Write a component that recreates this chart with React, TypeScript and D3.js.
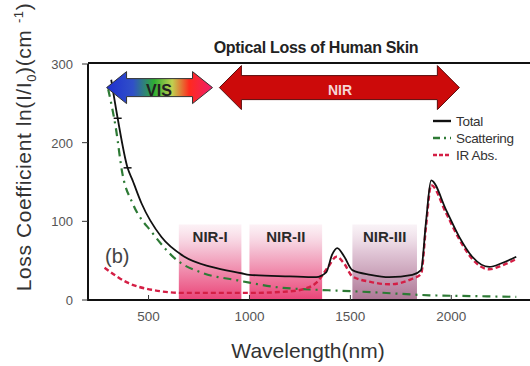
import React from "react";
import { scaleLinear, line, curveMonotoneX } from "d3";

// data (wavelength nm / loss coefficient cm^-1)
const totalWl = [315, 347, 396, 421, 465, 564, 678, 812, 960, 1000, 1200, 1330, 1380, 1410, 1435, 1470, 1510, 1600, 1693, 1807, 1850, 1875, 1900, 1975, 2040, 2104, 2188, 2252, 2322];
const totalVal = [280, 231, 168, 152, 123, 80, 55, 42, 34, 32, 30, 29, 35, 58, 66, 55, 38, 32, 29, 32, 38, 100, 152, 114, 80, 55, 42, 47, 55];

const scatWl = [300, 337, 371, 421, 520, 639, 772, 941, 1000, 1114, 1332, 1431, 1600, 1891, 2100, 2322];
const scatVal = [268, 220, 160, 123, 85, 51, 34, 25, 22, 17, 13, 12, 10, 6, 5, 4];

const absWl = [282, 396, 515, 678, 1000, 1200, 1282, 1332, 1390, 1431, 1470, 1510, 1600, 1693, 1807, 1850, 1875, 1900, 1975, 2040, 2104, 2188, 2252, 2322];
const absVal = [41, 22, 13, 9, 9, 11, 15, 22, 42, 55, 46, 30, 23, 20, 27, 33, 94, 146, 110, 77, 52, 39, 44, 52];

const bandNames = ["NIR-I", "NIR-II", "NIR-III"];
const bandStart = [650, 1000, 1510];
const bandEnd = [960, 1360, 1830];

const xTicks = [500, 1000, 1500, 2000];
const yTicks = [0, 100, 200, 300];

const legendNames = ["Total", "Scattering", "IR Abs."];

const App = () => {
  const x = scaleLinear().domain([200, 2390]).range([88, 530]);
  const y = scaleLinear().domain([0, 300]).range([300, 64]);

  const mk = (wl: number[], v: number[]) =>
    line<number>()
      .x((d, i) => x(wl[i]))
      .y((d) => y(d))
      .curve(curveMonotoneX)(v) || "";

  const font = "'Liberation Sans', Arial, sans-serif";

  // double headed arrow path
  const arrow = (x0: number, x1: number, cy: number, hw: number, sw: number, hl: number) =>
    `M${x0},${cy} L${x0 + hl},${cy - hw} L${x0 + hl},${cy - sw} L${x1 - hl},${cy - sw} L${x1 - hl},${cy - hw} L${x1},${cy} L${x1 - hl},${cy + hw} L${x1 - hl},${cy + sw} L${x0 + hl},${cy + sw} L${x0 + hl},${cy + hw} Z`;

  const legendStyles = [
    { stroke: "#111", dash: "none" },
    { stroke: "#2d7a35", dash: "7,4,2,4" },
    { stroke: "#d41f45", dash: "4,2" },
  ];

  return (
    <div style={{ position: "fixed", left: 0, top: 0 }}>
      <svg width={530} height={366} style={{ display: "block", background: "#fff" }}>
        <defs>
          <linearGradient id="pinkBand" x1="0" y1="0" x2="0" y2="1">
            <stop offset="0" stopColor="#f9e3ec" stopOpacity={0.5} />
            <stop offset="0.35" stopColor="#f4bcd0" />
            <stop offset="1" stopColor="#ea4377" />
          </linearGradient>
          <linearGradient id="mauveBand" x1="0" y1="0" x2="0" y2="1">
            <stop offset="0" stopColor="#f3e6ee" stopOpacity={0.5} />
            <stop offset="0.35" stopColor="#e2c8d8" />
            <stop offset="1" stopColor="#ad7695" />
          </linearGradient>
          <linearGradient id="visGrad" x1="0" y1="0" x2="1" y2="0">
            <stop offset="0" stopColor="#1f2fd0" />
            <stop offset="0.25" stopColor="#3050c8" />
            <stop offset="0.45" stopColor="#2fae33" />
            <stop offset="0.62" stopColor="#c0d050" />
            <stop offset="0.78" stopColor="#ff2a1e" />
            <stop offset="1" stopColor="#ee1d6c" />
          </linearGradient>
        </defs>

        {/* spectral bands */}
        {bandNames.map((n, i) => (
          <g key={n}>
            <rect
              x={x(bandStart[i])}
              y={y(96)}
              width={x(bandEnd[i]) - x(bandStart[i])}
              height={y(0) - y(96)}
              fill={i === 2 ? "url(#mauveBand)" : "url(#pinkBand)"}
            />
            <text
              x={(x(bandStart[i]) + x(bandEnd[i])) / 2}
              y={242}
              textAnchor="middle"
              fontFamily={font}
              fontWeight="bold"
              fontSize={15}
              fill="#2a2a2a"
            >
              {n}
            </text>
          </g>
        ))}

        {/* curves */}
        <path d={mk(scatWl, scatVal)} fill="none" stroke="#2d7a35" strokeWidth={2.2} strokeDasharray="8,5,2,5" />
        <path d={mk(absWl, absVal)} fill="none" stroke="#d41f45" strokeWidth={2.4} strokeDasharray="5,3" />
        <path d={mk(totalWl, totalVal)} fill="none" stroke="#111" strokeWidth={1.8} />
        {[347, 396].map((w) => {
          const i = totalWl.indexOf(w);
          return (
            <line key={w} x1={x(w) - 4} x2={x(w) + 4} y1={y(totalVal[i])} y2={y(totalVal[i])} stroke="#111" strokeWidth={1.5} />
          );
        })}

        {/* frame */}
        <path d={`M${x(200)},${y(300)} L${x(200)},${y(0)} L530,${y(0)}`} fill="none" stroke="#111" strokeWidth={2} />
        <line x1={x(200)} x2={530} y1={y(300) - 1} y2={y(300) - 1} stroke="#111" strokeWidth={2} />

        {/* axes */}
        {xTicks.map((t) => (
          <g key={t}>
            <line x1={x(t)} x2={x(t)} y1={y(0)} y2={y(0) - 5} stroke="#333" />
            <text x={x(t)} y={321} textAnchor="middle" fontFamily={font} fontSize={13.5} fill="#555">
              {t}
            </text>
          </g>
        ))}
        {yTicks.map((t) => (
          <g key={t}>
            <line x1={x(200) - 6} x2={x(200)} y1={y(t)} y2={y(t)} stroke="#333" />
            <text x={73} y={y(t) + 5} textAnchor="end" fontFamily={font} fontSize={13} fill="#555">
              {t}
            </text>
          </g>
        ))}

        <text x={308} y={358} textAnchor="middle" fontFamily={font} fontSize={21} fill="#333">
          Wavelength(nm)
        </text>
        <text
          transform={`translate(31,147) rotate(-90)`}
          textAnchor="middle"
          fontFamily={font}
          fontSize={21}
          letterSpacing={0.6}
          fill="#333"
        >
          Loss Coefficient ln(I/I
          <tspan fontSize={13} dy={5}>0</tspan>
          <tspan dy={-5}>)(cm </tspan>
          <tspan fontSize={13} dy={-8}>-1</tspan>
          <tspan dy={8}>)</tspan>
        </text>

        <text x={316} y={53} textAnchor="middle" fontFamily={font} fontWeight="bold" fontSize={16} letterSpacing={-0.3} fill="#222">
          Optical Loss of Human Skin
        </text>

        {/* VIS / NIR arrows */}
        <path d={arrow(x(292), x(817), y(270), 16, 9, 20)} fill="url(#visGrad)" stroke="#333" strokeWidth={1} />
        <text x={159} y={96} textAnchor="middle" fontFamily={font} fontWeight="bold" fontSize={16} fill="#222">
          VIS
        </text>
        <path d={arrow(x(851), x(2040), y(270), 22, 12, 22)} fill="#cc0a0a" stroke="#5a0a0a" strokeWidth={1} />
        <text x={340} y={95} textAnchor="middle" fontFamily={font} fontWeight="bold" fontSize={14} fill="#f6d6d6">
          NIR
        </text>

        <text x={105} y={263} fontFamily={font} fontSize={20} fill="#444">
          (b)
        </text>

        {/* legend */}
        {legendNames.map((n, i) => (
          <g key={n}>
            <line
              x1={433}
              x2={451}
              y1={121 + i * 17}
              y2={121 + i * 17}
              stroke={legendStyles[i].stroke}
              strokeWidth={2.4}
              strokeDasharray={legendStyles[i].dash}
            />
            <text x={456} y={126 + i * 17} fontFamily={font} fontSize={13.5} letterSpacing={-0.3} fill="#333">
              {n}
            </text>
          </g>
        ))}
      </svg>
    </div>
  );
};

export default App;
